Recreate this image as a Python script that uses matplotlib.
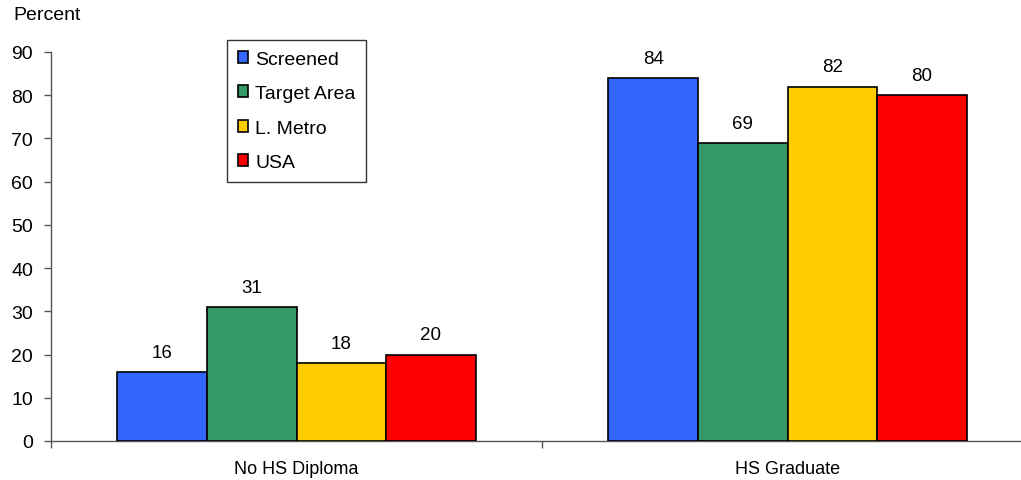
"""Grouped bar chart: educational attainment by population group."""

import matplotlib
matplotlib.use("Agg")
import matplotlib.pyplot as plt
import numpy as np

plt.rcParams["font.family"] = ["Liberation Sans", "DejaVu Sans"]

categories = ["No HS Diploma", "HS Graduate"]
series_names = ["Screened", "Target Area", "L. Metro", "USA"]
screened = [16, 84]
target_area = [31, 69]
l_metro = [18, 82]
usa = [20, 80]
y_ticks = [0, 10, 20, 30, 40, 50, 60, 70, 80, 90]

colors = ["#3366FF", "#339966", "#FFCC00", "#FF0000"]

fig = plt.figure(figsize=(10.21, 4.81), dpi=100)
fig.patch.set_facecolor("#ffffff")
ax = fig.add_axes([51 / 1021, 1 - 442 / 481, 982 / 1021, 389 / 481])

x = np.arange(len(categories))
group_width = 0.73
bar_w = group_width / len(series_names)
for i, (name, vals) in enumerate(zip(series_names, [screened, target_area, l_metro, usa])):
    offset = (i - 1.5) * bar_w
    bars = ax.bar(x + offset, vals, width=bar_w, color=colors[i],
                  edgecolor="black", linewidth=1.2, label=name, zorder=3)
    ax.bar_label(bars, labels=[str(v) for v in vals], padding=8, fontsize=13.5)

ax.set_xlim(-0.5, 1.5)
ax.set_ylim(0, 90)
ax.set_yticks(y_ticks)
ax.set_xticks(x)
ax.set_xticklabels(categories)
ax.set_xticks([-0.5, 0.5, 1.5], minor=True)

ax.spines["top"].set_visible(False)
ax.spines["right"].set_visible(False)
for side in ("left", "bottom"):
    ax.spines[side].set_color("#555555")
    ax.spines[side].set_linewidth(1.0)

ax.tick_params(axis="y", length=5, width=1, color="#555555", pad=8, labelsize=14)
ax.tick_params(axis="x", which="major", length=0, pad=14, labelsize=13)
ax.tick_params(axis="x", which="minor", length=5, width=1, color="#555555")

fig.text(13 / 1021, 1 - 7 / 481, "Percent", fontsize=14, va="top", ha="left")

leg = ax.legend(loc="upper left", bbox_to_anchor=(227 / 1021, 1 - 41 / 481),
                bbox_transform=fig.transFigure, frameon=True, fancybox=False,
                edgecolor="black", fontsize=14, handlelength=0.55, handleheight=0.55,
                handletextpad=0.35, labelspacing=0.9, borderpad=0.55,
                borderaxespad=0)
leg.get_frame().set_linewidth(1.0)

fig.savefig("out.png", dpi=100)
plt.close(fig)
